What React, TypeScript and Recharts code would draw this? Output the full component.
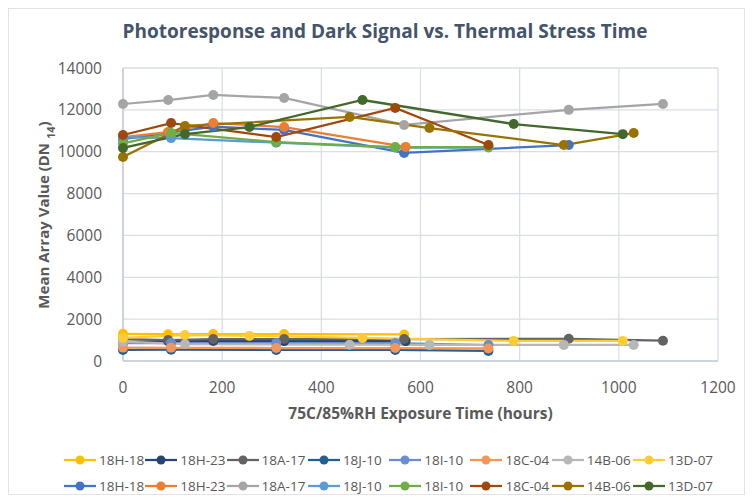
import React from 'react';
import { CartesianGrid, Label, Line, LineChart, XAxis, YAxis } from 'recharts';

// sample names (legend)
const samples = ['18H-18', '18H-23', '18A-17', '18J-10', '18I-10', '18C-04', '14B-06', '13D-07'];

// exposure times (hours) per sample
const hoursH18 = [0, 91, 182, 325, 567, 899];
const hoursH23 = [0, 91, 182, 325, 570];
const hoursA17 = [0, 91, 182, 325, 567, 899, 1089];
const hoursJ10 = [0, 97, 309, 549, 737];
const hoursI10 = [0, 97, 309, 549, 737];
const hoursC04 = [0, 97, 309, 549, 737];
const hoursB06 = [0, 125, 457, 618, 889, 1030];
const hoursD07 = [0, 125, 255, 483, 788, 1008];

// dark signal (lower group)
const darkH18 = [1300, 1280, 1290, 1290, 1270];
const darkH23 = [900, 950, 960, 950, 950];
const darkA17 = [1050, 1000, 1050, 1050, 1050, 1060, 970];
const darkJ10 = [530, 540, 530, 530, 480];
const darkI10 = [850, 860, 860, 860, 760];
const darkC04 = [640, 630, 620, 620, 600];
const darkB06 = [920, 810, 780, 770, 770, 770];
const darkD07 = [1100, 1240, 1200, 1100, 960, 960];

// photoresponse (upper group)
const photoH18 = [10600, 10900, 11200, 11040, 9940, 10320];
const photoH23 = [10700, 10940, 11370, 11180, 10230];
const photoA17 = [12280, 12470, 12710, 12570, 11280, 12000, 12280];
const photoJ10 = [10700, 10650, 10430, 10200, 10200];
const photoI10 = [10400, 10900, 10460, 10220, 10220];
const photoC04 = [10800, 11370, 10700, 12090, 10320];
const photoB06 = [9750, 11230, 11660, 11130, 10320, 10890];
const photoD07 = [10180, 10840, 11180, 12470, 11320, 10840];

const xTicks = [0, 200, 400, 600, 800, 1000, 1200];
const yTicks = [0, 2000, 4000, 6000, 8000, 10000, 12000, 14000];

const hours = [hoursH18, hoursH23, hoursA17, hoursJ10, hoursI10, hoursC04, hoursB06, hoursD07];
const dark = [darkH18, darkH23, darkA17, darkJ10, darkI10, darkC04, darkB06, darkD07];
const photo = [photoH18, photoH23, photoA17, photoJ10, photoI10, photoC04, photoB06, photoD07];

const darkColors = ['#FFC000', '#264478', '#636363', '#255E91', '#698ED0', '#F1975A', '#B7B7B7', '#FFCD33'];
const photoColors = ['#4472C4', '#ED7D31', '#A5A5A5', '#5B9BD5', '#70AD47', '#9E480E', '#997300', '#43682B'];

const toPoints = (xs: number[], ys: number[]) => ys.map((v, i) => ({ hours: xs[i], value: v }));

const series = [
  ...samples.map((name, i) => ({ id: 'd' + i, name, color: darkColors[i], data: toPoints(hours[i], dark[i]) })),
  ...samples.map((name, i) => ({ id: 'p' + i, name, color: photoColors[i], data: toPoints(hours[i], photo[i]) })),
];

const textColor = '#595959';
const gridColor = '#D9DEE7';

function LegendRows() {
  const rows = [series.slice(0, 8), series.slice(8)];
  return (
    <div style={{ position: 'absolute', left: 55, top: 438 }}>
      {rows.map((row, r) => (
        <div key={r} style={{ display: 'flex', height: 26, alignItems: 'center' }}>
          {row.map((s) => (
            <div key={s.id} style={{ display: 'flex', alignItems: 'center', width: 81.3 }}>
              <svg width={32} height={12}>
                <line x1={0} y1={6} x2={32} y2={6} stroke={s.color} strokeWidth={2.25} />
                <circle cx={16} cy={6} r={4.5} fill={s.color} />
              </svg>
              <span style={{ fontSize: 13.5, color: textColor, marginLeft: 3 }}>{s.name}</span>
            </div>
          ))}
        </div>
      ))}
    </div>
  );
}

export default function App() {
  return (
    <div
      style={{
        position: 'relative',
        width: 737,
        height: 487,
        fontFamily: '"Open Sans", sans-serif',
        border: '1px solid #E3E3E3',
        boxSizing: 'border-box',
        background: '#fff',
      }}
    >
      <div
        style={{
          position: 'absolute',
          top: 9,
          left: 0,
          width: 752,
          textAlign: 'center',
          fontSize: 19,
          fontWeight: 700,
          color: '#44546A',
        }}
      >
        Photoresponse and Dark Signal vs. Thermal Stress Time
      </div>
      <LineChart width={735} height={485} margin={{ top: 59, right: 26, left: 40, bottom: 0 }}>
        <CartesianGrid stroke={gridColor} strokeWidth={1.3} />
        <XAxis
          dataKey="hours"
          type="number"
          domain={[0, 1200]}
          ticks={xTicks}
          allowDuplicatedCategory={false}
          tickLine={false}
          axisLine={{ stroke: '#CDD3DD', strokeWidth: 2 }}
          tick={{ fill: textColor, fontSize: 15.5 }}
          tickSize={8}
          tickMargin={13}
          height={133}
        >
          <Label
            value="75C/85%RH Exposure Time (hours)"
            position="insideTop"
            offset={47}
            style={{ fill: textColor, fontSize: 15.5, fontWeight: 700 }}
          />
        </XAxis>
        <YAxis
          type="number"
          domain={[0, 14000]}
          ticks={yTicks}
          tickLine={false}
          axisLine={{ stroke: '#CDD3DD', strokeWidth: 2 }}
          tick={{ fill: textColor, fontSize: 15.5 }}
          tickSize={8}
          tickMargin={13}
          width={74}
        >
          <Label
            content={() => (
              <text
                transform="translate(34,206) rotate(-90)"
                textAnchor="middle"
                dominantBaseline="central"
                fill={textColor}
                fontSize={15}
                fontWeight={700}
              >
                Mean Array Value (DN{' '}
                <tspan fontSize={11} baselineShift="sub">
                  14
                </tspan>
                <tspan>)</tspan>
              </text>
            )}
          />
        </YAxis>
        {series.map((s) => (
          <Line
            key={s.id}
            data={s.data}
            dataKey="value"
            name={s.name}
            stroke={s.color}
            strokeWidth={2.25}
            dot={{ r: 5, fill: s.color, stroke: s.color, strokeWidth: 0 }}
            activeDot={false}
            isAnimationActive={false}
          />
        ))}
      </LineChart>
      <LegendRows />
    </div>
  );
}
